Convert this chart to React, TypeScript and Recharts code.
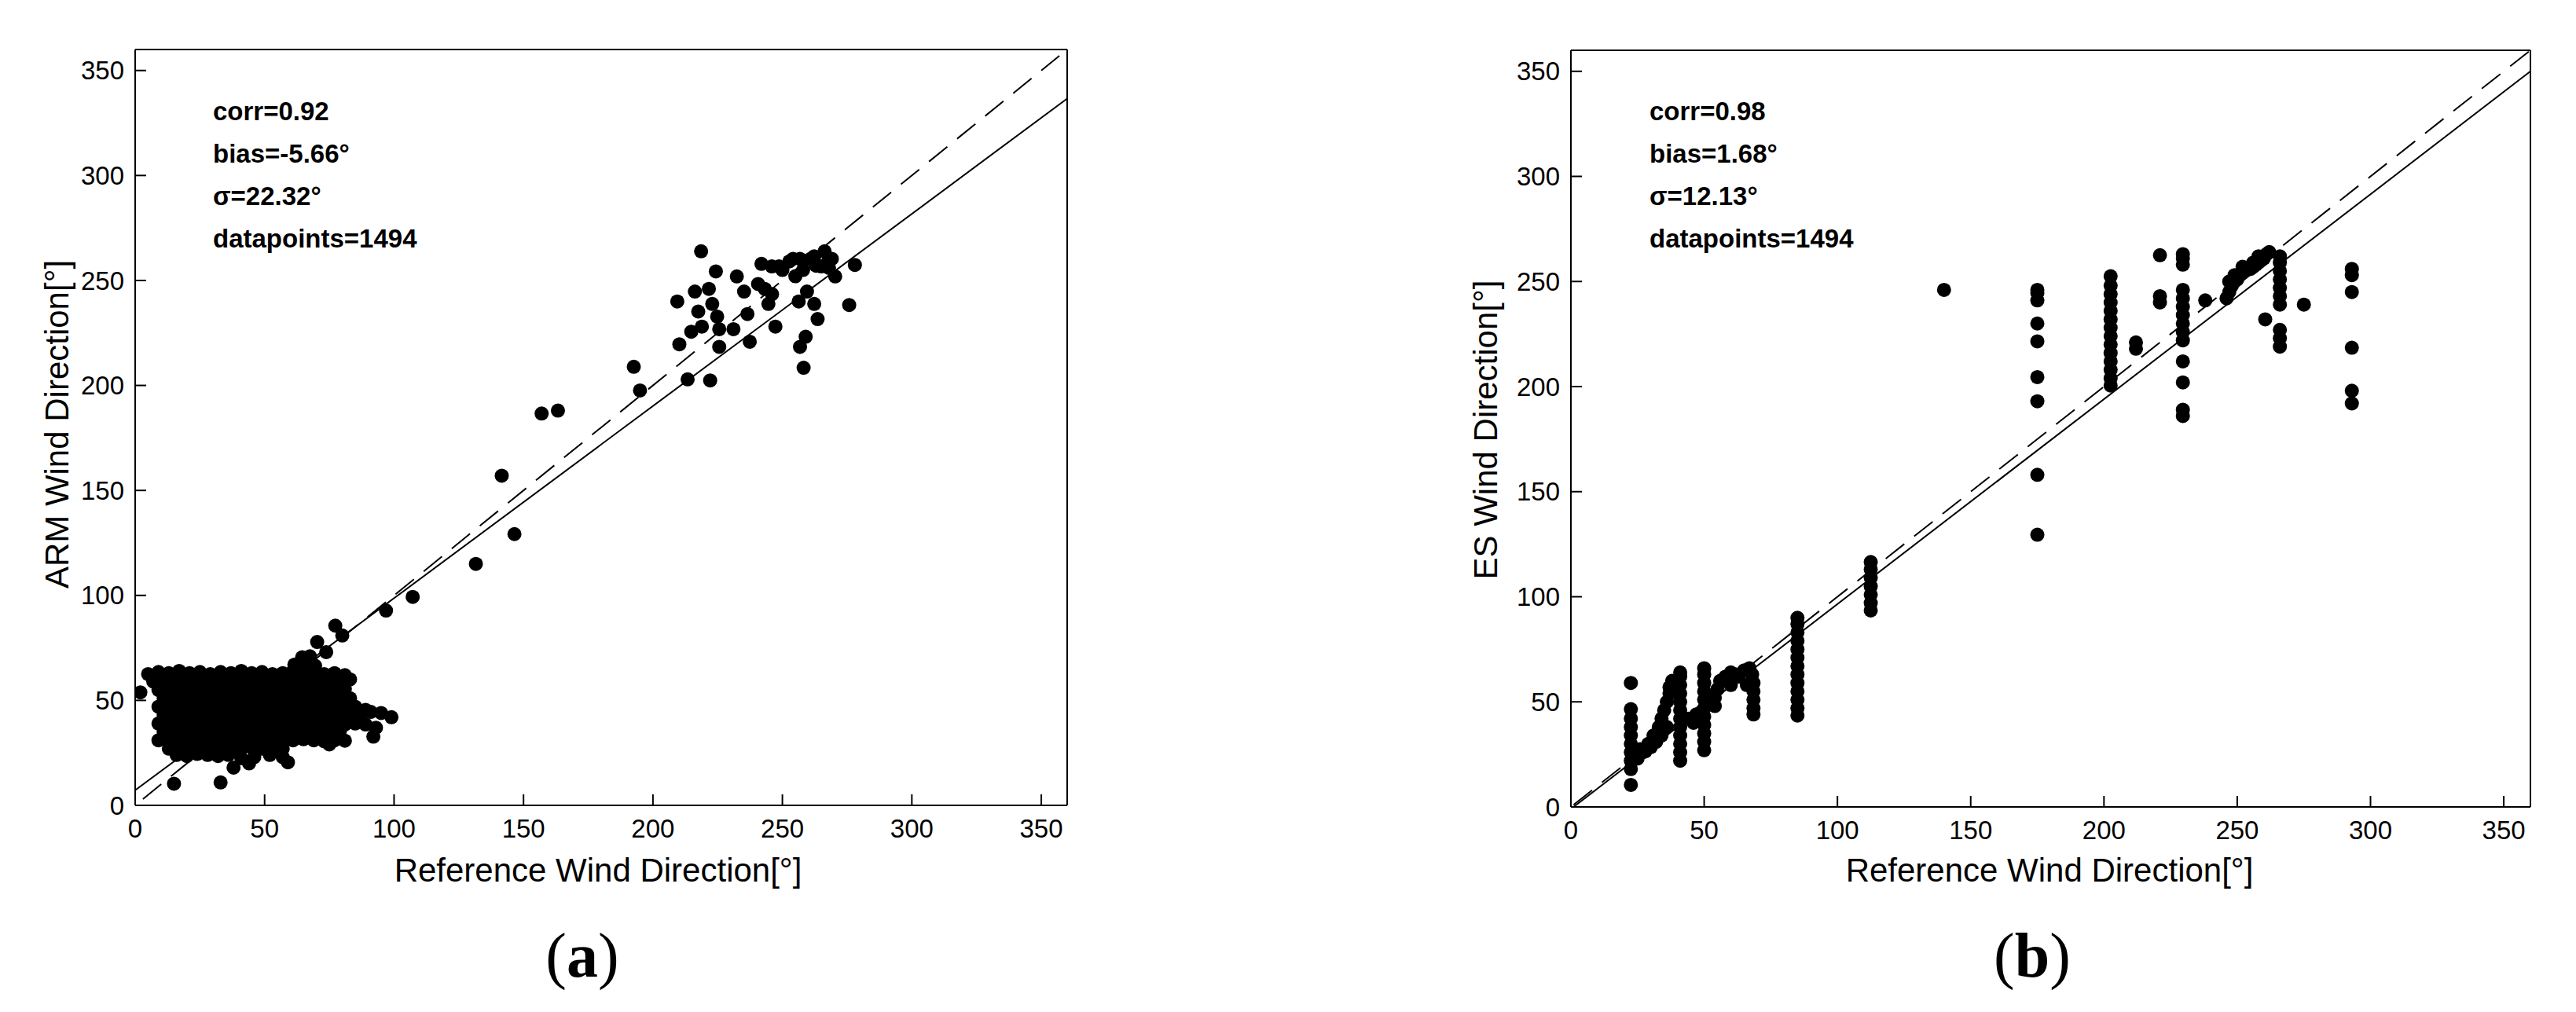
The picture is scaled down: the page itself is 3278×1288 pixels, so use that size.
import { ScatterChart, Scatter, XAxis, YAxis, ReferenceLine } from 'recharts';

type Pt = [number, number];

const axisTicks = [0, 50, 100, 150, 200, 250, 300, 350];

// (a) ARM vs reference: the dense low-direction blob
const armDense: Pt[] = [
  [5, 62.5], [9, 63.5], [13, 63], [17, 64], [21, 63], [25, 63.5], [29, 62.5], [33, 63.5], [37, 63], [41, 64],
  [45, 63], [49, 63.5], [53, 62.5], [57, 63], [61, 64], [65, 63], [69, 63.5], [73, 62.5], [77, 63], [81, 62],
  [61.5, 67], [64.5, 70.5], [67.5, 71], [66, 67], [69.5, 66.5],
  [7, 59], [11, 58.5], [15, 59.5], [19, 59], [23, 58.5], [27, 59.5], [31, 59], [35, 58.5], [39, 59], [43, 59.5],
  [47, 58.5], [51, 59], [55, 59.5], [59, 58.5], [63, 59], [67, 59.5], [71, 59], [75, 58.5], [79, 59], [83, 60],
  [9, 55], [13, 54.5], [17, 55.5], [21, 55], [25, 54.5], [29, 55], [33, 55.5], [37, 55], [41, 54.5], [45, 55],
  [49, 55.5], [53, 55], [57, 54.5], [61, 55], [65, 55.5], [69, 55], [73, 54.5], [77, 55], [81, 55.5],
  [11, 51], [15, 51.5], [19, 50.5], [23, 51], [27, 51.5], [31, 51], [35, 50.5], [39, 51], [43, 51.5], [47, 51],
  [51, 50.5], [55, 51], [59, 51.5], [63, 51], [67, 50.5], [71, 51], [75, 51.5], [79, 51], [83, 51],
  [9, 47], [13, 47.5], [17, 46.5], [21, 47], [25, 47.5], [29, 47], [33, 46.5], [37, 47], [41, 47.5], [45, 47],
  [49, 46.5], [53, 47], [57, 47.5], [61, 47], [65, 46.5], [69, 47], [73, 47.5], [77, 47], [81, 46.5], [85, 47], [89, 45.5],
  [11, 43], [15, 43.5], [19, 42.5], [23, 43], [27, 43.5], [31, 43], [35, 42.5], [39, 43], [43, 43.5], [47, 43],
  [51, 42.5], [55, 43], [59, 43.5], [63, 43], [67, 42.5], [71, 43], [75, 43.5], [79, 43], [83, 42.5], [87, 43],
  [91, 44.5], [95, 44], [99, 42],
  [9, 39], [13, 39.5], [17, 38.5], [21, 39], [25, 39.5], [29, 39], [33, 38.5], [37, 39], [41, 39.5], [45, 39],
  [49, 38.5], [53, 39], [57, 39.5], [61, 39], [65, 38.5], [69, 39], [73, 39.5], [77, 39], [81, 38.5], [85, 39],
  [89, 38.5], [93, 37],
  [11, 35], [15, 35.5], [19, 34.5], [23, 35], [27, 35.5], [31, 35], [35, 34.5], [39, 35], [43, 35.5], [47, 35],
  [51, 34.5], [55, 35], [59, 35.5], [63, 35], [67, 34.5], [71, 35], [75, 35.5], [79, 35],
  [9, 31], [13, 30.5], [17, 31.5], [21, 31], [25, 30.5], [29, 31], [33, 31.5], [37, 31], [41, 30.5], [45, 31],
  [49, 31.5], [53, 31], [57, 30.5], [61, 31], [65, 31.5], [69, 31], [73, 30.5], [77, 31], [81, 30.8], [92, 32.7],
  [13, 27], [17, 27.5], [21, 26.5], [25, 27], [29, 27.5], [33, 27], [37, 26.5], [41, 27], [45, 27.5], [49, 27],
  [53, 26.5], [57, 27], [75, 29],
  [16, 24], [20, 23.5], [24, 24.5], [28, 24], [32, 23.5], [36, 24], [41, 22.5], [46, 23], [52, 24], [57, 23],
  [38, 18], [44, 20], [59, 20.5],
];

// (a) scattered points outside the blob
const armSparse: Pt[] = [
  [2, 53.8], [15, 10.3], [33, 10.9],
  [70.3, 77.8], [73.8, 73], [77.3, 85.6], [80, 80.9], [96.9, 92.8], [107.2, 99.3], [131.6, 115],
  [146.5, 129.2], [141.6, 157], [157, 186.6], [163.3, 188],
  [192.6, 208.9], [195, 197.6], [209.4, 240], [210.2, 219.6], [213.4, 202.9], [214.8, 225.6], [216.2, 244.7],
  [217.5, 235.2], [218.6, 263.9], [218.9, 228], [221.6, 246], [222.1, 202.4], [222.9, 238.8], [224.3, 254.3],
  [224.8, 232.8], [225.6, 226.8], [225.6, 218.4], [231.1, 226.8], [232.4, 251.9], [235.2, 244.7], [236.5, 234],
  [237.4, 220.8], [240.6, 248.3], [241.9, 257.9], [243.2, 246], [244.6, 238.8], [245.9, 256.7], [246, 243.5],
  [247.3, 228], [248.7, 256.7], [250, 255], [252.7, 259.1], [254.1, 260.3], [255, 252], [256.3, 240],
  [256.8, 260.3], [256.8, 218.4], [258, 255], [258.2, 208.4], [259, 223.2], [259.5, 244.7], [260.9, 260.3],
  [262.3, 261.5], [262.3, 238.8], [263, 257], [263.6, 231.6], [265, 256.7], [266.3, 263.9], [267.7, 259.1],
  [268, 256], [269.1, 260.3], [270.4, 251.9], [275.8, 238.3], [278, 257.4],
];

// (b) ES vs reference: columns at discrete reference directions
const esLow: Pt[] = [
  [22.5, 10.5], [22.5, 18], [22.5, 22], [22.5, 26], [22.5, 30], [22.5, 34], [22.5, 38], [22.5, 42], [22.5, 46.5], [22.5, 59],
  [25, 23], [27, 26], [29, 30], [31, 34], [33, 38], [34, 42], [35, 46], [36, 50], [37, 54], [37, 57], [38, 60],
  [26, 27.5], [28, 26.5], [30, 28.5], [32, 31], [34, 34], [36, 38],
  [41, 22], [41, 26], [41, 30], [41, 34], [41, 38], [41, 42], [41, 46], [41, 50], [41, 54], [41, 58], [41, 62], [41, 64],
  [44, 42], [46, 40], [47, 44],
  [50, 27], [50, 31], [50, 35], [50, 39], [50, 43], [50, 47], [50, 51], [50, 55], [50, 59], [50, 63], [50, 66],
  [54, 48], [54, 52], [55, 56], [56, 60], [58, 62], [60, 64], [62, 63], [60, 58],
  [63, 62], [65, 65], [67, 66], [68, 63], [68.5, 59], [68.5, 55], [68.5, 51], [68.5, 47], [68.5, 44], [66, 58],
  [85, 43.5], [85, 47], [85, 51], [85, 55], [85, 59], [85, 63], [85, 67], [85, 71], [85, 75], [85, 79], [85, 83], [85, 87], [85, 90],
  [112.5, 93.5], [112.5, 97], [112.5, 101], [112.5, 105], [112.5, 109], [112.5, 113], [112.5, 116.5],
];

const esHigh: Pt[] = [
  [140, 246],
  [175, 129.5], [175, 158], [175, 193], [175, 204.5], [175, 221.5], [175, 230], [175, 241], [175, 244.5], [175, 246],
  [202.5, 200.5], [202.5, 204], [202.5, 208], [202.5, 212], [202.5, 216], [202.5, 220], [202.5, 224], [202.5, 228],
  [202.5, 232], [202.5, 236], [202.5, 240], [202.5, 244], [202.5, 248], [202.5, 252.5],
  [212, 218], [212, 221],
  [221, 240], [221, 243], [221, 262.5],
  [229.6, 186], [229.6, 189], [229.6, 202], [229.6, 212], [229.6, 222], [229.6, 226], [229.6, 230], [229.6, 234],
  [229.6, 238], [229.6, 242], [229.6, 246], [229.6, 258], [229.6, 261], [229.6, 263],
  [238, 241],
  [246, 242], [247, 245], [248, 248], [249, 250], [250, 251], [251, 253], [252, 254], [253, 255], [254, 256],
  [255, 256], [256, 257], [257, 258], [258, 259], [259, 260], [260, 261], [261, 263], [262, 264],
  [247, 250], [249, 253], [252, 257], [256, 259], [258, 262],
  [260.5, 232],
  [266, 219], [266, 223], [266, 227], [266, 239], [266, 243], [266, 247], [266, 251], [266, 255], [266, 259], [266, 262],
  [275, 239],
  [293, 192], [293, 198], [293, 218.5], [293, 245], [293, 253], [293, 256],
];

// fitted (solid) and 1:1 (dashed) lines, as end points
const armFit: Pt[] = [[0, 7.2], [360, 336.6]];
const armIdentity: Pt[] = [[3, 3], [357, 357]];
const esFit: Pt[] = [[1, 0], [360, 350]];
const esIdentity: Pt[] = [[1, 1], [360, 360]];

const armStats = ['corr=0.92', 'bias=-5.66°', 'σ=22.32°', 'datapoints=1494'];
const esStats = ['corr=0.98', 'bias=1.68°', 'σ=12.13°', 'datapoints=1494'];

const toXY = (pts: Pt[]) => pts.map(([x, y]) => ({ x, y }));

const sans = '"Liberation Sans", Arial, sans-serif';
const tickFont = { fill: '#000', fontSize: 33, fontFamily: sans };

const renderDot = (p: any) => <circle cx={p.cx} cy={p.cy} r={9} fill="#000" />;
const renderNothing = () => <g />;

interface PanelProps {
  left: number;
  width: number;
  margin: { top: number; right: number; bottom: number; left: number };
  data: Pt[];
  fit: Pt[];
  identity: Pt[];
}

function Panel({ left, width, margin, data, fit, identity }: PanelProps) {
  return (
    <div style={{ position: 'absolute', left, top: 0 }}>
      <ScatterChart width={width} height={1288} margin={margin}>
        <XAxis
          xAxisId="b"
          type="number"
          dataKey="x"
          domain={[0, 360]}
          ticks={axisTicks}
          allowDataOverflow
          height={60}
          stroke="#000"
          axisLine={{ strokeWidth: 2 }}
          tickLine={{ strokeWidth: 2 }}
          tickSize={-14}
          tickMargin={32}
          tick={tickFont}
        />
        <XAxis
          xAxisId="t"
          orientation="top"
          type="number"
          dataKey="x"
          domain={[0, 360]}
          ticks={axisTicks}
          allowDataOverflow
          height={1}
          stroke="#000"
          axisLine={{ strokeWidth: 2 }}
          tickLine={{ strokeWidth: 2 }}
          tickSize={-14}
          tick={false}
        />
        <YAxis
          yAxisId="l"
          type="number"
          dataKey="y"
          domain={[0, 360]}
          ticks={axisTicks}
          allowDataOverflow
          width={172}
          stroke="#000"
          axisLine={{ strokeWidth: 2 }}
          tickLine={{ strokeWidth: 2 }}
          tickSize={-14}
          tickMargin={28}
          tick={tickFont}
        />
        <YAxis
          yAxisId="r"
          orientation="right"
          type="number"
          dataKey="y"
          domain={[0, 360]}
          ticks={axisTicks}
          allowDataOverflow
          width={1}
          stroke="#000"
          axisLine={{ strokeWidth: 2 }}
          tickLine={{ strokeWidth: 2 }}
          tickSize={-14}
          tick={false}
        />
        <Scatter
          xAxisId="b"
          yAxisId="l"
          data={toXY(data)}
          shape={renderDot}
          isAnimationActive={false}
        />
        {/* binds the top/right box axes so they are drawn */}
        <Scatter
          xAxisId="t"
          yAxisId="r"
          data={toXY(fit)}
          shape={renderNothing}
          isAnimationActive={false}
        />
        <ReferenceLine
          xAxisId="b"
          yAxisId="l"
          segment={toXY(identity)}
          stroke="#000"
          strokeWidth={2}
          strokeDasharray="30 16"
        />
        <ReferenceLine
          xAxisId="b"
          yAxisId="l"
          segment={toXY(fit)}
          stroke="#000"
          strokeWidth={2}
        />
      </ScatterChart>
    </div>
  );
}

const statFont = { fontFamily: sans, fontWeight: 'bold' as const, fontSize: 33 };
const labelFont = { fontFamily: sans, fontSize: 42 };
const capFont = { fontFamily: '"Liberation Serif", "Times New Roman", serif', fontSize: 80 };

export default function App() {
  return (
    <div style={{ position: 'absolute', left: 0, top: 0, width: 3278, height: 1288, background: '#fff' }}>
      <Panel
        left={0}
        width={1640}
        margin={{ top: 62, right: 281, bottom: 203, left: 0 }}
        data={[...armDense, ...armSparse]}
        fit={armFit}
        identity={armIdentity}
      />
      <Panel
        left={1640}
        width={1638}
        margin={{ top: 63, right: 57, bottom: 201, left: 187 }}
        data={[...esLow, ...esHigh]}
        fit={esFit}
        identity={esIdentity}
      />
      <svg
        width={3278}
        height={1288}
        style={{ position: 'absolute', left: 0, top: 0, pointerEvents: 'none' }}
      >
        {armStats.map((s, i) => (
          <text key={s} x={271} y={153 + i * 54} {...statFont}>{s}</text>
        ))}
        {esStats.map((s, i) => (
          <text key={s} x={2099} y={153 + i * 54} {...statFont}>{s}</text>
        ))}
        <text x={761} y={1122} textAnchor="middle" {...labelFont}>Reference Wind Direction[°]</text>
        <text x={2608} y={1122} textAnchor="middle" {...labelFont}>Reference Wind Direction[°]</text>
        <text x={87} y={540} textAnchor="middle" transform="rotate(-90 87 540)" {...labelFont}>ARM Wind Direction[°]</text>
        <text x={1905} y={547} textAnchor="middle" transform="rotate(-90 1905 547)" {...labelFont}>ES Wind Direction[°]</text>
        <text x={741} y={1243} textAnchor="middle" {...capFont}>
          (<tspan fontWeight="bold">a</tspan>)
        </text>
        <text x={2586} y={1243} textAnchor="middle" {...capFont}>
          (<tspan fontWeight="bold">b</tspan>)
        </text>
      </svg>
    </div>
  );
}
